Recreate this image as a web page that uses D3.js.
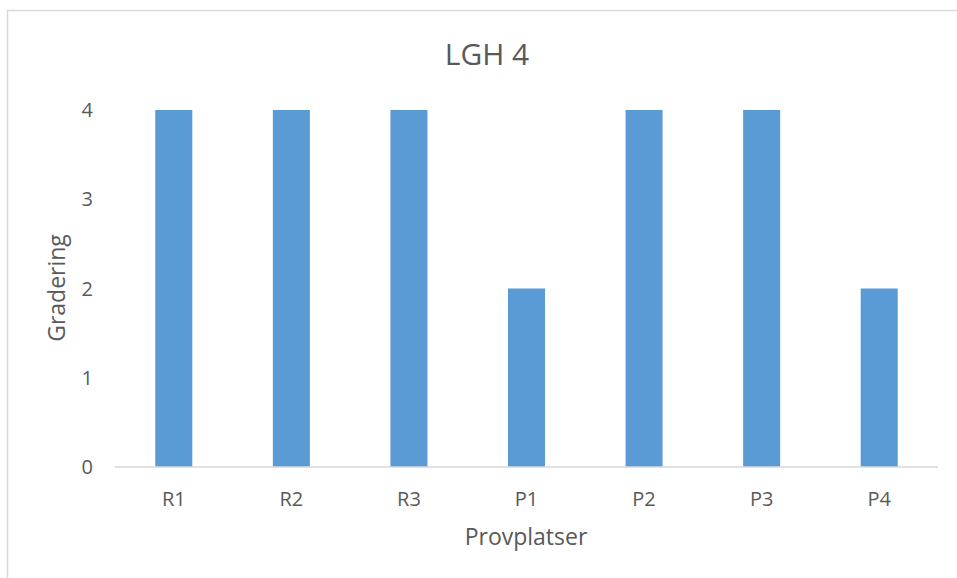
<!DOCTYPE html>
<html>
<head>
<meta charset="utf-8">
<script src="https://cdn.jsdelivr.net/npm/d3@7"></script>
<style>
  body { margin: 0; background: #fff; }
  text { font-family: "Open Sans", "Noto Sans", sans-serif; fill: #595959; }
</style>
</head>
<body>
<svg id="chart"></svg>
<script>
// data
const categories = ["R1", "R2", "R3", "P1", "P2", "P3", "P4"];
const values = [4, 4, 4, 2, 4, 4, 2];
const yTicks = [0, 1, 2, 3, 4];

const width = 957, height = 578;
const margin = {top: 110, right: 19, bottom: 111, left: 115};

const svg = d3.select("#chart")
  .attr("width", width)
  .attr("height", height);

// chart frame (runs off the bottom/right of the picture)
svg.append("rect")
  .attr("x", 7.5).attr("y", 10.5)
  .attr("width", width).attr("height", height)
  .attr("fill", "none")
  .attr("stroke", "#d9d9d9")
  .attr("stroke-width", 1.5);

const x = d3.scaleBand()
  .domain(categories)
  .range([margin.left, width - margin.right])
  .paddingInner(0.685)
  .paddingOuter(0.3425);

const y = d3.scaleLinear()
  .domain([0, 4])
  .range([height - margin.bottom, margin.top]);

svg.selectAll(".bar")
  .data(categories)
  .enter()
  .append("rect")
  .attr("class", "bar")
  .attr("x", d => x(d))
  .attr("width", x.bandwidth())
  .attr("y", (d, i) => y(values[i]))
  .attr("height", (d, i) => y(0) - y(values[i]))
  .attr("fill", "#5b9bd5");

// x axis line
svg.append("line")
  .attr("x1", margin.left).attr("x2", width - margin.right)
  .attr("y1", y(0)).attr("y2", y(0))
  .attr("stroke", "#d9d9d9")
  .attr("stroke-width", 1.5);

// category labels
svg.selectAll(".xlab")
  .data(categories)
  .enter()
  .append("text")
  .attr("class", "xlab")
  .attr("x", d => x(d) + x.bandwidth() / 2)
  .attr("y", 506)
  .attr("text-anchor", "middle")
  .style("font-size", "20px")
  .text(d => d);

// y tick labels
svg.selectAll(".ylab")
  .data(yTicks)
  .enter()
  .append("text")
  .attr("class", "ylab")
  .attr("x", 93)
  .attr("y", d => y(d) + 7)
  .attr("text-anchor", "end")
  .style("font-size", "20px")
  .text(d => d);

// title
svg.append("text")
  .attr("x", 487).attr("y", 65)
  .attr("text-anchor", "middle")
  .style("font-size", "30px")
  .text("LGH 4");

// axis titles
svg.append("text")
  .attr("x", 526).attr("y", 545)
  .attr("text-anchor", "middle")
  .style("font-size", "23px")
  .text("Provplatser");

svg.append("text")
  .attr("transform", "translate(65,288) rotate(-90)")
  .attr("text-anchor", "middle")
  .style("font-size", "23px")
  .text("Gradering");
</script>
</body>
</html>
